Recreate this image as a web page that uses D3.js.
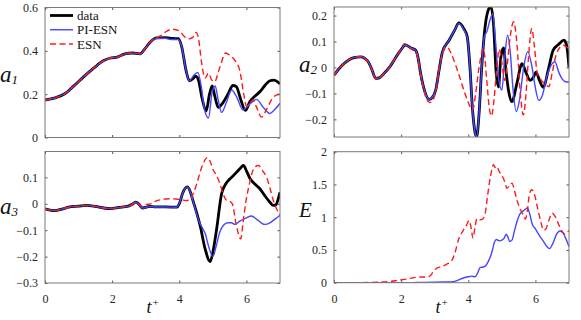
<!DOCTYPE html>
<html>
<head>
<meta charset="utf-8">
<script src="https://cdn.jsdelivr.net/npm/d3@7"></script>
<style>
  body { margin: 0; background: #fff; }
  svg { display: block; }
</style>
</head>
<body>
<div id="vis"></div>
<script>
const FRAME_WIDTH = 581;
const FRAME_HEIGHT = 320;
const FONT = "'Liberation Serif', 'DejaVu Serif', serif";

// time range
const T_DOMAIN = [0, 7];
const X_TICKS = [0, 2, 4, 6];

// ---- a1 ----
const a1Data = [[0,0.173],[0.3,0.183],[0.6,0.203],[0.85,0.237],[1.15,0.28],[1.45,0.32],[1.75,0.355],[1.95,0.367],[2.15,0.371],[2.38,0.386],[2.6,0.39],[2.83,0.386],[2.98,0.41],[3.13,0.44],[3.33,0.46],[3.6,0.461],[3.8,0.457],[3.97,0.456],[4.07,0.42],[4.2,0.31],[4.3,0.262],[4.4,0.27],[4.48,0.283],[4.56,0.27],[4.68,0.18],[4.8,0.122],[4.9,0.2],[4.98,0.238],[5.06,0.19],[5.16,0.139],[5.3,0.16],[5.45,0.2],[5.6,0.24],[5.7,0.235],[5.82,0.18],[5.97,0.125],[6.1,0.165],[6.25,0.19],[6.4,0.211],[6.55,0.24],[6.7,0.262],[6.82,0.265],[6.92,0.258],[7,0.247]];
const a1Pi = [[0,0.173],[0.3,0.183],[0.6,0.203],[0.85,0.237],[1.15,0.28],[1.45,0.32],[1.75,0.355],[1.95,0.367],[2.15,0.371],[2.38,0.386],[2.6,0.39],[2.83,0.386],[2.98,0.41],[3.13,0.44],[3.33,0.458],[3.6,0.458],[3.75,0.452],[3.97,0.452],[4.07,0.42],[4.2,0.31],[4.3,0.262],[4.42,0.285],[4.55,0.3],[4.65,0.24],[4.75,0.13],[4.87,0.09],[4.97,0.2],[5.07,0.238],[5.15,0.18],[5.26,0.116],[5.4,0.16],[5.56,0.219],[5.7,0.19],[5.9,0.127],[6.1,0.155],[6.3,0.176],[6.5,0.14],[6.7,0.111],[6.85,0.13],[7,0.158]];
const a1Esn = [[0,0.173],[0.3,0.183],[0.6,0.203],[0.85,0.237],[1.15,0.28],[1.45,0.32],[1.75,0.355],[1.95,0.367],[2.15,0.371],[2.38,0.386],[2.6,0.39],[2.83,0.386],[2.98,0.41],[3.13,0.44],[3.3,0.458],[3.45,0.47],[3.6,0.488],[3.8,0.5],[4.0,0.492],[4.15,0.466],[4.28,0.455],[4.4,0.462],[4.5,0.485],[4.58,0.45],[4.66,0.35],[4.77,0.274],[4.87,0.297],[4.95,0.27],[5.05,0.257],[5.2,0.32],[5.38,0.39],[5.5,0.38],[5.66,0.355],[5.8,0.31],[5.92,0.2],[6.0,0.145],[6.08,0.152],[6.2,0.173],[6.3,0.14],[6.45,0.094],[6.6,0.13],[6.75,0.175],[6.9,0.197],[7,0.2]];

// ---- a2 ----
const a2Data = [[0,-0.03],[0.15,-0.005],[0.3,0.015],[0.45,0.03],[0.6,0.038],[0.8,0.041],[1.0,0.025],[1.12,-0.005],[1.24,-0.042],[1.35,-0.04],[1.49,-0.023],[1.65,0.0],[1.79,0.028],[1.95,0.06],[2.13,0.086],[2.3,0.075],[2.43,0.067],[2.5,0.04],[2.58,-0.023],[2.7,-0.09],[2.83,-0.123],[2.93,-0.115],[3.03,-0.087],[3.13,-0.01],[3.23,0.06],[3.43,0.105],[3.6,0.145],[3.72,0.172],[3.87,0.149],[3.97,0.118],[4.05,0.0],[4.12,-0.151],[4.2,-0.25],[4.25,-0.267],[4.32,-0.18],[4.4,0.0],[4.5,0.156],[4.58,0.215],[4.67,0.235],[4.75,0.17],[4.83,-0.02],[4.9,-0.075],[4.97,0.04],[5.05,0.075],[5.12,-0.01],[5.2,-0.09],[5.3,-0.132],[5.45,-0.06],[5.6,0.015],[5.72,-0.02],[5.84,-0.05],[5.93,-0.04],[6.02,-0.018],[6.12,-0.05],[6.24,-0.077],[6.38,-0.01],[6.53,0.067],[6.7,0.09],[6.85,0.105],[6.93,0.085],[7,0.0]];
const a2Pi = [[0,-0.03],[0.15,-0.005],[0.3,0.015],[0.45,0.03],[0.6,0.038],[0.8,0.041],[1.0,0.025],[1.12,-0.005],[1.24,-0.042],[1.35,-0.04],[1.49,-0.023],[1.65,0.0],[1.79,0.028],[1.95,0.06],[2.13,0.086],[2.3,0.075],[2.43,0.067],[2.5,0.04],[2.58,-0.023],[2.7,-0.09],[2.83,-0.123],[2.93,-0.115],[3.03,-0.087],[3.13,-0.01],[3.23,0.06],[3.43,0.105],[3.6,0.145],[3.72,0.17],[3.87,0.145],[3.97,0.115],[4.05,0.0],[4.12,-0.151],[4.2,-0.25],[4.25,-0.267],[4.32,-0.18],[4.4,0.0],[4.48,0.12],[4.56,0.14],[4.64,0.18],[4.73,0.207],[4.8,0.12],[4.9,-0.04],[5.0,-0.087],[5.08,0.03],[5.17,0.124],[5.25,0.06],[5.33,-0.08],[5.43,-0.17],[5.52,-0.13],[5.65,0.0],[5.77,0.061],[5.9,0.0],[6.0,-0.08],[6.1,-0.127],[6.2,-0.11],[6.35,-0.03],[6.5,0.015],[6.58,0.022],[6.7,-0.02],[6.8,-0.045],[6.9,-0.055],[7,-0.056]];
const a2Esn = [[0,-0.03],[0.15,-0.005],[0.3,0.015],[0.45,0.03],[0.6,0.038],[0.8,0.041],[1.0,0.025],[1.12,-0.005],[1.24,-0.042],[1.35,-0.04],[1.49,-0.023],[1.65,0.0],[1.79,0.028],[1.95,0.06],[2.1,0.092],[2.3,0.07],[2.43,0.06],[2.5,0.035],[2.58,-0.03],[2.7,-0.1],[2.85,-0.135],[2.95,-0.125],[3.05,-0.08],[3.15,0.01],[3.25,0.06],[3.36,0.08],[3.5,0.05],[3.7,-0.02],[3.9,-0.1],[4.05,-0.15],[4.13,-0.164],[4.22,-0.1],[4.32,0.0],[4.45,0.073],[4.55,-0.05],[4.62,-0.15],[4.69,-0.187],[4.77,-0.12],[4.85,0.0],[4.92,0.07],[5.0,0.02],[5.08,-0.05],[5.15,0.0],[5.25,0.12],[5.35,0.176],[5.45,0.09],[5.55,-0.1],[5.64,-0.183],[5.72,-0.1],[5.8,0.05],[5.89,0.15],[5.97,0.08],[6.05,-0.02],[6.15,-0.045],[6.3,-0.065],[6.4,-0.074],[6.5,-0.02],[6.63,0.054],[6.83,0.086],[6.93,0.078],[7,0.073]];

// ---- a3 ----
const a3Data = [[0,-0.019],[0.15,-0.024],[0.3,-0.026],[0.5,-0.02],[0.7,-0.013],[1.0,-0.009],[1.24,-0.006],[1.5,-0.01],[1.75,-0.016],[1.95,-0.018],[2.2,-0.014],[2.48,-0.009],[2.6,-0.002],[2.7,0.006],[2.8,-0.002],[2.9,-0.016],[3.0,-0.014],[3.1,-0.01],[3.3,-0.012],[3.6,-0.012],[3.92,-0.013],[4.0,0.0],[4.1,0.04],[4.24,0.064],[4.33,0.045],[4.41,0.011],[4.52,-0.035],[4.62,-0.082],[4.77,-0.171],[4.92,-0.219],[5.02,-0.17],[5.12,-0.089],[5.26,0.038],[5.36,0.07],[5.46,0.088],[5.6,0.105],[5.71,0.12],[5.82,0.135],[5.91,0.145],[6.0,0.125],[6.11,0.095],[6.25,0.075],[6.4,0.057],[6.55,0.03],[6.7,0.006],[6.8,-0.006],[6.88,-0.004],[6.95,0.02],[7,0.044]];
const a3Pi = [[0,-0.019],[0.15,-0.024],[0.3,-0.026],[0.5,-0.02],[0.7,-0.013],[1.0,-0.009],[1.24,-0.006],[1.5,-0.01],[1.75,-0.016],[1.95,-0.018],[2.2,-0.014],[2.48,-0.009],[2.6,-0.002],[2.7,0.006],[2.8,-0.002],[2.9,-0.016],[3.0,-0.014],[3.1,-0.01],[3.3,-0.012],[3.6,-0.012],[3.92,-0.013],[4.0,0.0],[4.1,0.04],[4.24,0.064],[4.33,0.045],[4.41,0.011],[4.52,-0.04],[4.6,-0.07],[4.7,-0.095],[4.77,-0.112],[4.87,-0.16],[5.0,-0.2],[5.1,-0.16],[5.2,-0.11],[5.31,-0.082],[5.45,-0.072],[5.55,-0.072],[5.66,-0.078],[5.8,-0.066],[6.0,-0.053],[6.15,-0.046],[6.3,-0.058],[6.45,-0.073],[6.55,-0.078],[6.7,-0.072],[6.85,-0.058],[7,-0.044]];
const a3Esn = [[0,-0.019],[0.15,-0.024],[0.3,-0.026],[0.5,-0.02],[0.7,-0.013],[1.0,-0.009],[1.24,-0.006],[1.5,-0.01],[1.75,-0.016],[1.95,-0.018],[2.2,-0.014],[2.48,-0.009],[2.6,-0.002],[2.7,0.006],[2.8,-0.002],[2.9,-0.01],[3.0,-0.004],[3.15,0.0],[3.3,0.01],[3.45,0.015],[3.6,0.018],[3.75,0.019],[3.9,0.018],[4.07,0.015],[4.2,0.012],[4.32,0.015],[4.42,0.04],[4.52,0.076],[4.67,0.139],[4.84,0.175],[4.92,0.16],[5.01,0.128],[5.1,0.11],[5.2,0.08],[5.3,0.04],[5.41,0.013],[5.5,0.01],[5.58,0.0],[5.69,-0.076],[5.83,-0.133],[5.9,-0.07],[5.99,0.013],[6.08,0.07],[6.16,0.114],[6.26,0.14],[6.36,0.145],[6.48,0.125],[6.6,0.101],[6.7,0.06],[6.8,0.013],[6.9,-0.02],[7,-0.044]];

// ---- E ----
const ePi = [[0,0],[1,0],[2,0.0],[2.5,0.003],[3.0,0.006],[3.3,0.01],[3.55,0.015],[3.7,0.04],[3.85,0.072],[4.0,0.09],[4.1,0.1],[4.2,0.09],[4.28,0.15],[4.35,0.23],[4.45,0.24],[4.52,0.26],[4.6,0.33],[4.66,0.4],[4.72,0.5],[4.78,0.62],[4.84,0.66],[4.92,0.64],[5.0,0.65],[5.07,0.68],[5.13,0.74],[5.18,0.7],[5.23,0.63],[5.3,0.65],[5.38,0.8],[5.46,0.95],[5.54,1.05],[5.65,1.1],[5.76,1.14],[5.83,1.05],[5.9,0.9],[6.0,0.82],[6.12,0.72],[6.24,0.63],[6.33,0.56],[6.42,0.52],[6.52,0.6],[6.63,0.74],[6.73,0.79],[6.82,0.76],[6.9,0.68],[7,0.55]];
const eEsn = [[0,0],[0.5,0],[1.0,0.003],[1.3,0.008],[1.6,0.015],[1.9,0.035],[2.1,0.05],[2.3,0.07],[2.5,0.085],[2.7,0.088],[2.85,0.1],[2.95,0.16],[3.06,0.22],[3.2,0.245],[3.35,0.28],[3.5,0.33],[3.6,0.45],[3.71,0.66],[3.85,0.8],[3.95,0.88],[4.02,0.95],[4.08,0.85],[4.14,0.68],[4.2,0.85],[4.26,0.98],[4.35,0.96],[4.42,0.97],[4.5,1.05],[4.58,1.35],[4.66,1.62],[4.75,1.8],[4.8,1.76],[4.85,1.78],[4.92,1.7],[5.0,1.64],[5.08,1.55],[5.15,1.44],[5.22,1.48],[5.3,1.52],[5.38,1.4],[5.45,1.26],[5.55,1.12],[5.64,1.03],[5.7,0.97],[5.76,1.1],[5.82,1.35],[5.89,1.42],[5.97,1.35],[6.06,1.15],[6.15,0.95],[6.25,0.8],[6.32,0.83],[6.4,0.95],[6.5,1.06],[6.6,1.0],[6.7,0.88],[6.8,0.78],[6.88,0.74],[6.95,0.77],[7,0.8]];

const LEGEND_LABELS = ["data", "PI-ESN", "ESN"];
const STYLES = {
  data: {stroke: "#000000", width: 2.8, dash: null},
  pi:   {stroke: "#4646ff", width: 1.4, dash: null},
  esn:  {stroke: "#ff1a1a", width: 1.4, dash: "6,3.5"}
};

const PANELS = [
  {box: [45, 280, 7.5, 137.5], y: [0, 0.6], yTicks: [0, 0.2, 0.4, 0.6], label: ["a", "1"], lx: 0, ly: 82,
   series: [["data", a1Data], ["pi", a1Pi], ["esn", a1Esn]], xLabels: false},
  {box: [334, 569, 7, 137], y: [-0.268, 0.233], yTicks: [-0.2, -0.1, 0, 0.1, 0.2], label: ["a", "2"], lx: 299, ly: 72,
   series: [["data", a2Data], ["pi", a2Pi], ["esn", a2Esn]], xLabels: false},
  {box: [45, 280, 151.5, 283], y: [-0.3, 0.198], yTicks: [-0.3, -0.2, -0.1, 0, 0.1], label: ["a", "3"], lx: 0, ly: 214,
   series: [["data", a3Data], ["pi", a3Pi], ["esn", a3Esn]], xLabels: true},
  {box: [334, 569, 151.7, 282.7], y: [0, 2], yTicks: [0, 0.5, 1, 1.5, 2], label: ["E", null], lx: 299, ly: 217,
   series: [["pi", ePi], ["esn", eEsn]], xLabels: true}
];

const SVG = d3.select("#vis").append("svg")
  .attr("width", FRAME_WIDTH)
  .attr("height", FRAME_HEIGHT);

const fmt = (d) => d3.format("~g")(d);

PANELS.forEach((p, i) => {
  const [x0, x1, y0, y1] = p.box;
  const X = d3.scaleLinear().domain(T_DOMAIN).range([x0, x1]);
  const Y = d3.scaleLinear().domain(p.y).range([y1, y0]);

  SVG.append("clipPath").attr("id", "clip" + i)
    .append("rect").attr("x", x0).attr("y", y0).attr("width", x1 - x0).attr("height", y1 - y0);

  // lines
  const line = d3.line()
    .x((d) => X(d[0]))
    .y((d) => Y(d[1]))
    .curve(d3.curveMonotoneX);

  const g = SVG.append("g").attr("clip-path", "url(#clip" + i + ")");
  p.series.forEach(([key, data]) => {
    const s = STYLES[key];
    g.append("path")
      .datum(data)
      .attr("d", line)
      .attr("fill", "none")
      .attr("stroke", s.stroke)
      .attr("stroke-width", s.width)
      .attr("stroke-linejoin", "round")
      .attr("stroke-dasharray", s.dash);
  });

  // axes (ticks inside, box style)
  const tl = 2.5;
  const bottom = SVG.append("g").attr("transform", "translate(0," + y1 + ")")
    .call(d3.axisBottom(X).tickValues(X_TICKS).tickSizeInner(-tl).tickSizeOuter(0)
      .tickFormat(p.xLabels ? d3.format("d") : ""));
  bottom.selectAll("text").attr("dy", "1.45em");
  const top = SVG.append("g").attr("transform", "translate(0," + y0 + ")")
    .call(d3.axisTop(X).tickValues(X_TICKS).tickSizeInner(-tl).tickSizeOuter(0).tickFormat(""));
  const left = SVG.append("g").attr("transform", "translate(" + x0 + ",0)")
    .call(d3.axisLeft(Y).tickValues(p.yTicks).tickSizeInner(-tl).tickSizeOuter(0).tickFormat(fmt));
  left.selectAll("text").attr("x", -7);
  const right = SVG.append("g").attr("transform", "translate(" + x1 + ",0)")
    .call(d3.axisRight(Y).tickValues(p.yTicks).tickSizeInner(-tl).tickSizeOuter(0).tickFormat(""));

  [bottom, top, left, right].forEach((a) => {
    a.attr("font-family", FONT).attr("font-size", 12);
    a.select(".domain").remove();
    a.selectAll("line").attr("stroke", "#555");
    a.selectAll("text").attr("fill", "#262626");
  });

  SVG.append("rect")
    .attr("x", x0).attr("y", y0)
    .attr("width", x1 - x0).attr("height", y1 - y0)
    .attr("fill", "none")
    .attr("stroke", "#7a7a7a")
    .attr("stroke-width", 1);

  // y label
  const lab = SVG.append("text")
    .attr("x", p.lx).attr("y", p.ly)
    .attr("font-family", FONT)
    .attr("font-style", "italic")
    .attr("font-size", p.label[1] ? 23 : 21)
    .attr("fill", "#111")
    .text(p.label[0]);
  if (p.label[1]) {
    lab.append("tspan")
      .attr("font-size", 13)
      .attr("dy", 1.5)
      .text(p.label[1]);
  }

  // x label
  if (p.xLabels) {
    const xl = SVG.append("text")
      .attr("x", (x0 + x1) / 2 - 16).attr("y", 313)
      .attr("font-family", FONT)
      .attr("font-style", "italic")
      .attr("font-size", 18)
      .attr("fill", "#111")
      .text("t");
    xl.append("tspan").attr("font-size", 11).attr("font-style", "normal").attr("dy", -7).attr("dx", 1).text("+");
  }
});

// legend in first panel
const LEG = SVG.append("g");
const legKeys = ["data", "pi", "esn"];
const LEG_Y = d3.scalePoint().domain(legKeys).range([15.5, 44]);
legKeys.forEach((k, i) => {
  const s = STYLES[k];
  LEG.append("line")
    .attr("x1", 50).attr("x2", 73)
    .attr("y1", LEG_Y(k)).attr("y2", LEG_Y(k))
    .attr("stroke", s.stroke)
    .attr("stroke-width", s.width)
    .attr("stroke-dasharray", s.dash);
  LEG.append("text")
    .attr("x", 77).attr("y", LEG_Y(k) + 4.5)
    .attr("font-family", FONT)
    .attr("font-size", 13)
    .attr("fill", "#111")
    .text(LEGEND_LABELS[i]);
});
</script>
</body>
</html>
